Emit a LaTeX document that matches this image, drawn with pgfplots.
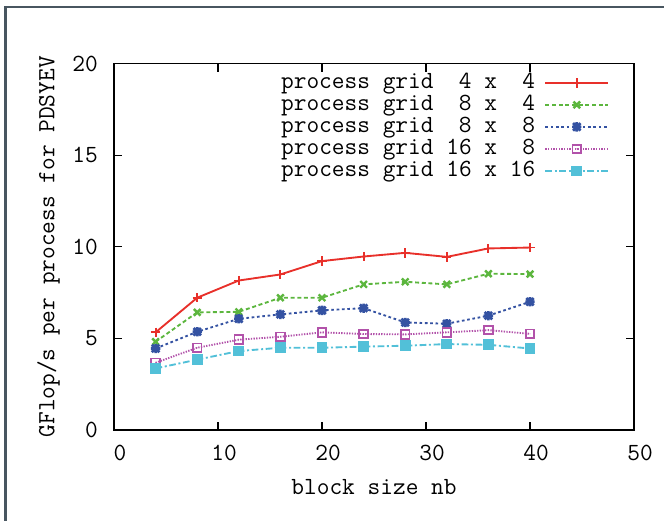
\documentclass[border=0pt]{standalone}
\usepackage{pgfplots}
\pgfplotsset{compat=1.18}
\usepackage{fontspec}
\definecolor{cred}{RGB}{232,48,42}
\definecolor{cgreen}{RGB}{92,182,62}
\definecolor{cblue}{RGB}{52,82,162}
\definecolor{cmag}{RGB}{178,82,170}
\definecolor{ccyan}{RGB}{82,192,216}
\definecolor{frame}{RGB}{72,86,96}
\newcommand{\gpfont}{\fontsize{18.5}{22}\ttfamily\selectfont}
\pgfdeclareplotmark{gpstar}{%
  \pgfpathmoveto{\pgfqpoint{-\pgfplotmarksize}{0pt}}\pgfpathlineto{\pgfqpoint{\pgfplotmarksize}{0pt}}%
  \pgfpathmoveto{\pgfqpoint{0pt}{-\pgfplotmarksize}}\pgfpathlineto{\pgfqpoint{0pt}{\pgfplotmarksize}}%
  \pgfpathmoveto{\pgfqpoint{-0.8\pgfplotmarksize}{-0.8\pgfplotmarksize}}\pgfpathlineto{\pgfqpoint{0.8\pgfplotmarksize}{0.8\pgfplotmarksize}}%
  \pgfpathmoveto{\pgfqpoint{-0.8\pgfplotmarksize}{0.8\pgfplotmarksize}}\pgfpathlineto{\pgfqpoint{0.8\pgfplotmarksize}{-0.8\pgfplotmarksize}}%
  \pgfusepathqstroke}
\pgfdeclareplotmark{sqdot}{%
  \pgfpathrectangle{\pgfqpoint{-\pgfplotmarksize}{-\pgfplotmarksize}}{\pgfqpoint{2\pgfplotmarksize}{2\pgfplotmarksize}}%
  \pgfusepathqstroke
  \pgfpathcircle{\pgfqpoint{0pt}{0pt}}{0.35pt}\pgfusepathqfill}
\begin{document}
\gpfont
\begin{tikzpicture}
\useasboundingbox (0,0) rectangle (498pt,390.75pt);
\draw[color=frame, line width=2.2pt] (3.8pt,-10pt) -- (3.8pt,385.5pt) -- (510pt,385.5pt);
\begin{axis}[
  at={(85.5pt,68.25pt)}, anchor=south west,
  scale only axis, width=390pt, height=274.8pt,
  xmin=0, xmax=50, ymin=0, ymax=20,
  xtick={0,10,...,50}, ytick={0,5,...,20},
  xticklabel={\gpfont\pgfmathprintnumber{\tick}},
  yticklabel={\gpfont\pgfmathprintnumber{\tick}},
  tick pos=both, tick align=inside,
  major tick length=6pt,
  axis line style={line width=1pt},
  every tick/.style={black, line width=1pt},
  /pgf/number format/assume math mode=true,
  tick label style={font=\gpfont},
  xticklabel style={inner sep=0pt, anchor=north, yshift=-11pt, xshift=4.5pt},
  yticklabel style={inner sep=0pt, anchor=east, xshift=-12pt},
  every axis x label/.style={at={(axis description cs:0.5,0)}, yshift=-42.75pt, anchor=center},
  every axis y label/.style={at={(axis description cs:0,0.5)}, xshift=-49pt, rotate=90, anchor=center},
  xlabel={block size nb},
  ylabel={GFlop/s per process for PDSYEV},
  label style={font=\gpfont},
  legend plot pos=right,
  legend cell align=right,
  legend style={draw=none, fill=none, at={(axis description cs:1,1)}, anchor=north east,
    inner sep=0pt, xshift=-18.5pt, yshift=-6pt, row sep=0pt, column sep=6pt,
    nodes={inner sep=1pt, text height=11.5pt, text depth=3pt},
    font=\gpfont},
  legend image code/.code={\draw[mark repeat=2,mark phase=2,#1] plot coordinates {(0pt,0pt) (23.5pt,0pt) (47pt,0pt)};},
  every axis plot/.append style={line width=1.4pt},
]
\addplot[cred, mark=+, mark size=3.5pt] coordinates {(4,5.33) (8,7.22) (12,8.16) (16,8.49) (20,9.22) (24,9.47) (28,9.67) (32,9.45) (36,9.91) (40,9.96)};
\addlegendentry{process grid~~4 x~~4}
\addplot[cgreen, dash pattern=on 3pt off 2pt, mark=x, mark size=3.5pt, mark options={solid, line width=1.8pt}] coordinates {(4,4.82) (8,6.42) (12,6.45) (16,7.22) (20,7.22) (24,7.95) (28,8.09) (32,7.95) (36,8.53) (40,8.51)};
\addlegendentry{process grid~~8 x~~4}
\addplot[cblue, dash pattern=on 2pt off 2pt, mark=gpstar, mark size=3.5pt, mark options={solid, line width=2pt}] coordinates {(4,4.45) (8,5.36) (12,6.07) (16,6.31) (20,6.53) (24,6.65) (28,5.87) (32,5.80) (36,6.24) (40,7.00)};
\addlegendentry{process grid~~8 x~~8}
\addplot[cmag, dash pattern=on 1pt off 1pt, mark=sqdot, mark size=3.2pt, mark options={solid, line width=1.4pt}] coordinates {(4,3.67) (8,4.49) (12,4.93) (16,5.09) (20,5.33) (24,5.24) (28,5.22) (32,5.33) (36,5.45) (40,5.25)};
\addlegendentry{process grid 16 x~~8}
\addplot[ccyan, dash pattern=on 5pt off 2pt on 1.5pt off 2pt, mark=square*, mark size=3.3pt, mark options={solid}] coordinates {(4,3.36) (8,3.84) (12,4.31) (16,4.49) (20,4.49) (24,4.55) (28,4.60) (32,4.69) (36,4.65) (40,4.45)};
\addlegendentry{process grid 16 x 16}
\end{axis}
\end{tikzpicture}
\end{document}
